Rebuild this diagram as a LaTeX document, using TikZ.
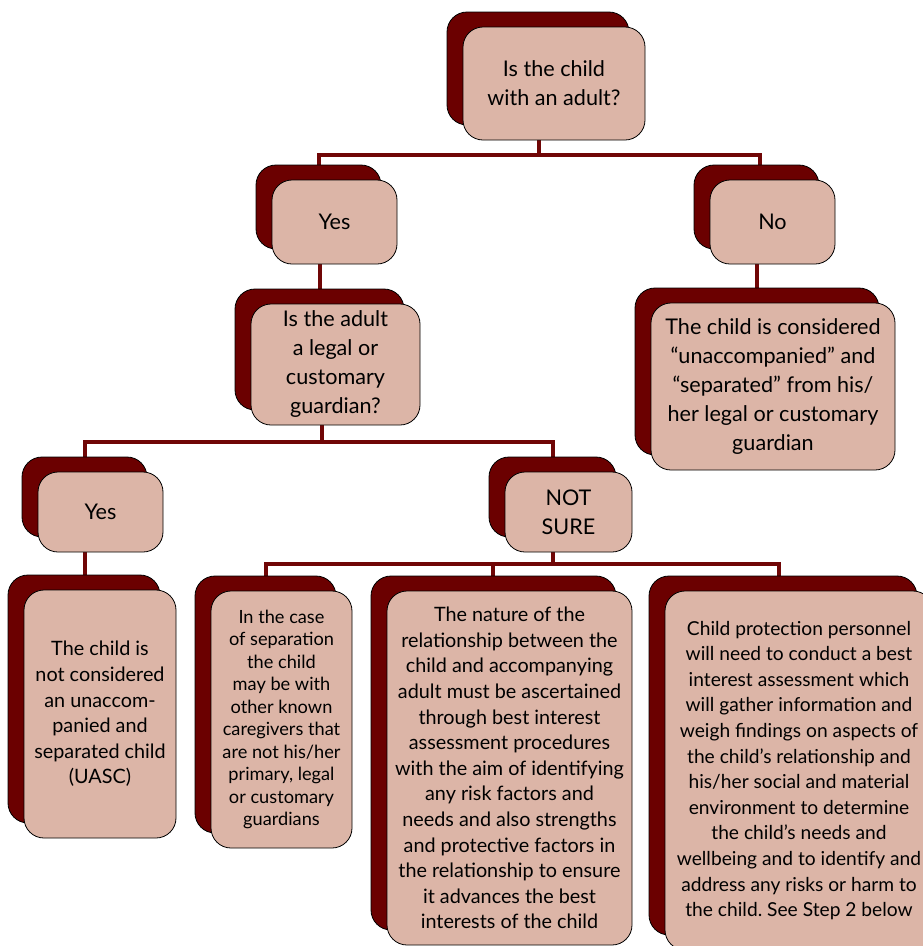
\documentclass[tikz,border=0pt]{standalone}
\usepackage{fontspec}
\setmainfont{Lato}
\usetikzlibrary{shadows,backgrounds}
\definecolor{cardback}{HTML}{6B0000}
\definecolor{cardface}{HTML}{DCB5A7}
\definecolor{linkred}{HTML}{700606}
\frenchspacing

\begin{document}
\begin{tikzpicture}[x=1pt,y=-1pt,
  card/.style={draw=black, line width=0.8pt, fill=cardface,
    rounded corners=20pt, align=center, inner sep=0pt,
    copy shadow={shadow xshift=-16pt, shadow yshift=15pt,
      fill=cardback, draw=black, line width=0.8pt}},
  big/.style={font=\fontsize{21.6}{29}\selectfont},
  mid/.style={font=\fontsize{19.8}{25.6}\selectfont},
  midnarrow/.style={font=\fontsize{19.2}{25.6}\selectfont},
  small/.style={font=\fontsize{18.2}{22.5}\selectfont},
  link/.style={draw=linkred, line width=4.5pt}]
\useasboundingbox (0,0) rectangle (922,946);

% question and answer cards
\node[card, big, minimum width=182pt, minimum height=113pt] (top) at (554,83.5)
  {Is the child\\with an adult?};
\node[card, big, minimum width=125pt, minimum height=84pt] (yesA) at (334.5,222) {Yes};
\node[card, big, minimum width=125pt, minimum height=84pt] (noA) at (772.5,222) {No};
\node[card, big, minimum width=169pt, minimum height=121pt] (adult) at (335.5,364.5)
  {Is the adult\\a legal or\\customary\\guardian?};
\node[card, big, minimum width=244pt, minimum height=167pt] (sep) at (773,386.5)
  {The child is considered\\“unaccompanied” and\\“separated” from his/\\her legal or customary\\guardian};
\node[card, big, minimum width=125pt, minimum height=80pt] (yesB) at (100.5,512) {Yes};
\node[card, big, minimum width=127pt, minimum height=80pt] (unsure) at (568.5,512) {NOT\\SURE};
\node[card, mid, minimum width=152pt, minimum height=248pt] (uasc) at (100,714)
  {The child is\\not considered\\an unaccom-\\panied and\\separated child\\(UASC)};
\node[card, small, minimum width=141pt, minimum height=257pt] (other) at (281.5,719.5)
  {In the case\\of separation\\the child\\may be with\\other known\\caregivers that\\are not his/her\\primary, legal\\or customary\\guardians};
\node[card, mid, minimum width=245pt, minimum height=354pt] (nature) at (509.5,768)
  {The nature of the\\relationship between the\\child and accompanying\\adult must be ascertained\\through best interest\\assessment procedures\\with the aim of identifying\\any risk factors and\\needs and also strengths\\and protective factors in\\the relationship to ensure\\it advances the best\\interests of the child};
\node[card, midnarrow, minimum width=268pt, minimum height=359pt] (cpp) at (799,770.5)
  {Child protection personnel\\will need to conduct a best\\interest assessment which\\will gather information and\\weigh findings on aspects of\\the child’s relationship and\\his/her social and material\\environment to determine\\the child’s needs and\\wellbeing and to identify and\\address any risks or harm to\\the child. See Step 2 below};

% junction points of the connector bars
\coordinate (a0) at (539,155);
\coordinate (aL) at (319,155);
\coordinate (aR) at (760,155);
\coordinate (s1) at (320,275);
\coordinate (s2) at (757,275);
\coordinate (b0) at (322,442);
\coordinate (bL) at (85,442);
\coordinate (bR) at (553,442);
\coordinate (c0) at (553,564);
\coordinate (cL) at (266,564);
\coordinate (cM) at (493,564);
\coordinate (cR) at (779,564);

\begin{scope}[on background layer]
  \draw[link] (top.south -| a0) -- (a0);
  \draw[link] (yesA.north -| aL) -- (aL) -- (aR) -- (noA.north -| aR);
  \draw[link] (yesA.south -| s1) -- (adult.north -| s1);
  \draw[link] (noA.south -| s2) -- (sep.north -| s2);
  \draw[link] (adult.south -| b0) -- (b0);
  \draw[link] (yesB.north -| bL) -- (bL) -- (bR) -- (unsure.north -| bR);
  \draw[link] (yesB.south -| bL) -- (uasc.north -| bL);
  \draw[link] (unsure.south -| c0) -- (c0);
  \draw[link] (other.north -| cL) -- (cL) -- (cR) -- (cpp.north -| cR);
  \draw[link] (cM) -- (nature.north -| cM);
\end{scope}
\end{tikzpicture}
\end{document}
